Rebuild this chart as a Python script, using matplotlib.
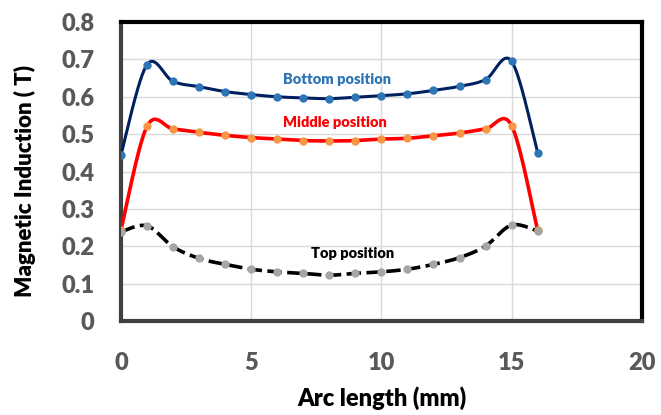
import numpy as np
import matplotlib.pyplot as plt

plt.rcParams['font.family'] = ['Lato', 'DejaVu Sans']

arc = [0, 1, 2, 3, 4, 5, 6, 7, 8, 9, 10, 11, 12, 13, 14, 15, 16]
bottom = [0.445, 0.686, 0.641, 0.627, 0.614, 0.606, 0.600, 0.597, 0.595, 0.599,
          0.603, 0.608, 0.617, 0.628, 0.646, 0.695, 0.451]
middle = [0.244, 0.521, 0.514, 0.505, 0.497, 0.491, 0.487, 0.483, 0.482, 0.483,
          0.487, 0.489, 0.496, 0.503, 0.514, 0.523, 0.243]
top = [0.239, 0.255, 0.199, 0.168, 0.152, 0.139, 0.132, 0.128, 0.123, 0.128,
       0.132, 0.139, 0.152, 0.170, 0.201, 0.257, 0.241]


def smooth(x, y, n=30):
    # Excel-like smoothed line (cubic Bezier between points)
    x = np.asarray(x, float)
    y = np.asarray(y, float)
    xs, ys = [], []
    for i in range(len(x) - 1):
        p0 = np.array([x[max(i - 1, 0)], y[max(i - 1, 0)]])
        p1 = np.array([x[i], y[i]])
        p2 = np.array([x[i + 1], y[i + 1]])
        p3 = np.array([x[min(i + 2, len(x) - 1)], y[min(i + 2, len(x) - 1)]])
        c1 = p1 + (p2 - p0) / 6
        c2 = p2 - (p3 - p1) / 6
        t = np.linspace(0, 1, n)[:, None]
        b = ((1 - t) ** 3) * p1 + 3 * ((1 - t) ** 2) * t * c1 + 3 * (1 - t) * t ** 2 * c2 + t ** 3 * p2
        xs.extend(b[:, 0])
        ys.extend(b[:, 1])
    return xs, ys


fig, ax = plt.subplots(figsize=(6.61, 4.15), dpi=100)
fig.subplots_adjust(left=0.183, right=0.971, bottom=0.226, top=0.947)

sx, sy = smooth(arc, bottom)
ax.plot(sx, sy, color='#002060', lw=2.2, zorder=3)
ax.plot(arc, bottom, 'o', color='#2E75B6', ms=5, zorder=4)

sx, sy = smooth(arc, middle)
ax.plot(sx, sy, color='#FF0000', lw=2.6, zorder=3)
ax.plot(arc, middle, 'o', color='#F79646', ms=5, zorder=4)

sx, sy = smooth(arc, top)
ax.plot(sx, sy, color='black', lw=2.6, ls=(0, (4, 1.5)), zorder=3)
ax.plot(arc, top, 'o', color='#A6A6A6', ms=5, zorder=4)

W = 'heavy'
ax.text(8.3, 0.646, 'Bottom position', color='#2E75B6', fontsize=10.5,
        fontweight=W, ha='center', va='center')
ax.text(8.2, 0.531, 'Middle position', color='#FF0000', fontsize=10.5,
        fontweight=W, ha='center', va='center')
ax.text(8.9, 0.182, 'Top position', color='black', fontsize=10.5,
        fontweight=W, ha='center', va='center')

ax.set_xlim(0, 20)
ax.set_ylim(0, 0.8)
ax.set_xticks([0, 5, 10, 15, 20])
ax.set_yticks(np.arange(0, 0.81, 0.1))
ax.set_yticklabels(['0', '0.1', '0.2', '0.3', '0.4', '0.5', '0.6', '0.7', '0.8'])
ax.grid(True, color='#D9D9D9', lw=1)
ax.set_axisbelow(True)

for lab in ax.get_xticklabels() + ax.get_yticklabels():
    lab.set_fontweight(W)
    lab.set_color('#595959')
ax.tick_params(axis='x', labelsize=17, length=0, pad=22)
ax.tick_params(axis='y', labelsize=17, length=0, pad=19)

ax.set_xlabel('Arc length (mm)', fontsize=17, fontweight=W, labelpad=9)
ax.set_ylabel('Magnetic Induction ( T)', fontsize=16, fontweight=W)
ax.yaxis.set_label_coords(-0.163, 0.468)

for s in ['top', 'right']:
    ax.spines[s].set_color('black')
    ax.spines[s].set_linewidth(3)
for s in ['left', 'bottom']:
    ax.spines[s].set_color('#404040')
    ax.spines[s].set_linewidth(3)

plt.savefig('out.png', dpi=100)
